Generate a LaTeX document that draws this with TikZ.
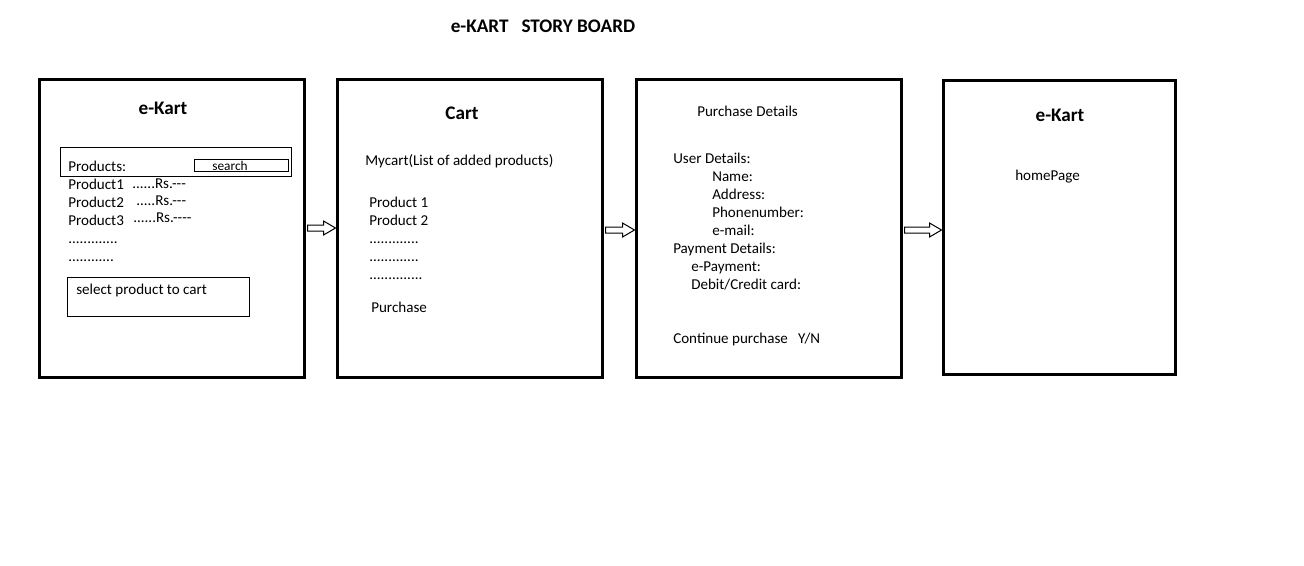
\documentclass[tikz,border=0pt]{standalone}
\usepackage{fontspec}
\setmainfont{Carlito}
\usetikzlibrary{calc}
\begin{document}
\begin{tikzpicture}[x=0.75pt,y=-0.75pt,
  frame/.style={draw=black,line width=2.25pt,inner sep=0pt,outer sep=0pt,anchor=north west},
  thin/.style={draw=black,line width=0.75pt,inner sep=0pt,outer sep=0pt,anchor=north west},
  txt/.style={anchor=base west,inner sep=0pt,font=\fontsize{11.3pt}{13pt}\selectfont},
  head/.style={anchor=mid,inner sep=0pt,font=\fontsize{14.4pt}{16pt}\selectfont\bfseries},
  blockarrow/.style={draw=black,line width=0.75pt,fill=white}]
\useasboundingbox (0,0) rectangle (1304,565);
\node[head] (title) at (543,29) {e-KART\ \ \ STORY BOARD};
% frames
\node[frame,minimum width=265*0.75pt,minimum height=298*0.75pt] (b1) at (39.5,79.5) {};
\node[frame,minimum width=265*0.75pt,minimum height=298*0.75pt] (b2) at (337.5,79.5) {};
\node[frame,minimum width=265*0.75pt,minimum height=298*0.75pt] (b3) at (636.5,79.5) {};
\node[frame,minimum width=232*0.75pt,minimum height=294*0.75pt] (b4) at (943.5,80.5) {};
% box 1
\node[head] (t1) at (163,111) {e-Kart};
\node[thin,minimum width=231*0.75pt,minimum height=29*0.75pt] (bar) at (60.5,147.5) {};
\node[thin,minimum width=94*0.75pt,minimum height=12*0.75pt] (srch) at (194.5,159.5) {};
\node[anchor=mid,inner sep=0pt,font=\fontsize{10pt}{11pt}\selectfont] (srcht) at (230,167) {search};
\node[txt] (prods) at (68,171) {Products:};
\node[txt] (p1) at (68,189) {Product1};
\node[txt] (p1r) at (132,188) {......Rs.{-}{-}{-}};
\node[txt] (p2) at (68,207) {Product2};
\node[txt] (p2r) at (136,205.5) {.....Rs.{-}{-}{-}};
\node[txt] (p3) at (68,225) {Product3};
\node[txt] (p3r) at (133,222.5) {......Rs.{-}{-}{-}{-}};
\node[txt] (d1) at (68,243) {.............};
\node[txt] (d2) at (68,261) {............};
\node[thin,minimum width=182*0.75pt,minimum height=39*0.75pt] (sel) at (67.5,277.5) {};
\node[txt] (selt) at (76,294) {select product to cart};
% box 2
\node[head] (t2) at (462,116) {Cart};
\node[txt] (myc) at (365,165) {Mycart(List of added products)};
\node[txt] (c1) at (369,207) {Product 1};
\node[txt] (c2) at (369,225) {Product 2};
\node[txt] (cd1) at (369,243) {.............};
\node[txt] (cd2) at (369,261) {.............};
\node[txt] (cd3) at (369,279) {..............};
\node[txt] (pur) at (371,312) {Purchase};
% box 3
\node[txt] (pd) at (697,116) {Purchase Details};
\node[txt] (ud) at (673,163) {User Details:};
\node[txt] (nm) at (712,181) {Name:};
\node[txt] (ad) at (712,199) {Address:};
\node[txt] (ph) at (712,217) {Phonenumber:};
\node[txt] (em) at (712,235) {e-mail:};
\node[txt] (pay) at (673,253) {Payment Details:};
\node[txt] (ep) at (691,271) {e-Payment:};
\node[txt] (dc) at (691,289) {Debit/Credit card:};
\node[txt] (cont) at (673,343) {Continue purchase\ \ \ Y/N};
% box 4
\node[head] (t4) at (1060,118) {e-Kart};
\node[txt] (hp) at (1015,180) {homePage};
% block arrows
\foreach \a/\b/\ay in {b1/b2/228,b2/b3/230,b3/b4/230}{
  \coordinate (s) at ($(\a.east |- 0,\ay)+(3,0)$);
  \coordinate (e) at ($(\b.west |- 0,\ay)+(-2,0)$);
  \draw[blockarrow] ($(s)+(0,-3)$) -- ($(e)+(-12,-3)$) -- ($(e)+(-12,-7)$) -- (e)
     -- ($(e)+(-12,7)$) -- ($(e)+(-12,3)$) -- ($(s)+(0,3)$) -- cycle;
}
\end{tikzpicture}
\end{document}
